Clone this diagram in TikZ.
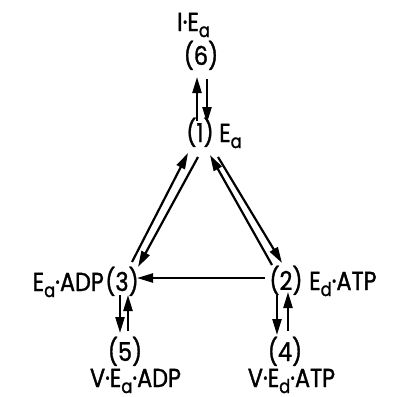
\documentclass[tikz,border=0pt]{standalone}
\usepackage{fontspec}
\setmainfont{Poppins}[FakeStretch=0.86,FakeBold=1.3]
\usetikzlibrary{arrows.meta}
\newcommand\lowsub[1]{\raisebox{-6pt}[\height][0pt]{\fontsize{19}{19}\selectfont #1}}
\begin{document}
\begin{tikzpicture}[x=1pt,y=-1pt,
  txt/.style={inner sep=0pt, font=\fontsize{26}{26}\selectfont},
  arr/.style={line width=2.2pt, -{Triangle[length=16pt,width=9pt]}}]
\useasboundingbox (0,0) rectangle (396,397);
% texts
\node[txt, anchor=base west] (t6) at (177,31) {I·E\lowsub{a}};
\node[txt, anchor=base] (n6) at (201,65) {(6)};
\node[txt, anchor=base] (n1) at (200,142) {(1)};
\node[txt, anchor=base west] (t1) at (219,142) {E\lowsub{a}};
\node[txt, anchor=base east] (t3) at (104,291) {E\lowsub{a}·ADP};
\node[txt, anchor=base] (n3) at (122,291) {(3)};
\node[txt, anchor=base] (n2) at (286,290) {(2)};
\node[txt, anchor=base west] (t2) at (309,290) {E\lowsub{d}·ATP};
\node[txt, anchor=base] (n5) at (125,361) {(5)};
\node[txt, anchor=base] (t5) at (135.5,387) {V·E\lowsub{a}·ADP};
\node[txt, anchor=base] (n4) at (285,361) {(4)};
\node[txt, anchor=base] (t4) at (291.5,387) {V·E\lowsub{d}·ATP};
% connector end points
\coordinate (a61s) at (197,121); \coordinate (a61e) at (197,77);
\coordinate (a16s) at (207,79);  \coordinate (a16e) at (207,123);
\coordinate (a31s) at (132,262); \coordinate (a31e) at (188,153);
\coordinate (a13s) at (198,157); \coordinate (a13e) at (138,267);
\coordinate (a21s) at (272,265); \coordinate (a21e) at (210,155);
\coordinate (a12s) at (218,157); \coordinate (a12e) at (282,263);
\coordinate (a23s) at (265,278); \coordinate (a23e) at (137,278);
\coordinate (a35s) at (120,295); \coordinate (a35e) at (120,333);
\coordinate (a53s) at (128,331); \coordinate (a53e) at (128,295);
\coordinate (a24s) at (277,295); \coordinate (a24e) at (277,335);
\coordinate (a42s) at (288,331); \coordinate (a42e) at (288,292);
% connectors
\draw[arr] (a61s) -- (a61e);
\draw[arr] (a16s) -- (a16e);
\draw[arr] (a31s) -- (a31e);
\draw[arr] (a13s) -- (a13e);
\draw[arr] (a21s) -- (a21e);
\draw[arr] (a12s) -- (a12e);
\draw[arr] (a23s) -- (a23e);
\draw[arr] (a35s) -- (a35e);
\draw[arr] (a53s) -- (a53e);
\draw[arr] (a24s) -- (a24e);
\draw[arr] (a42s) -- (a42e);
\end{tikzpicture}
\end{document}
